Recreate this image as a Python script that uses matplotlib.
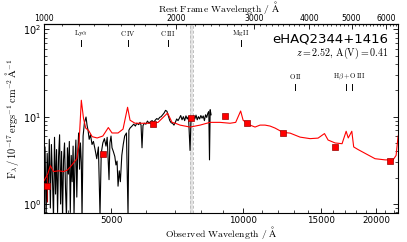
import matplotlib
matplotlib.use('Agg')
import matplotlib.pyplot as plt
import matplotlib.transforms as mtransforms
from matplotlib.ticker import (FixedLocator, MultipleLocator, NullFormatter,
                               FuncFormatter, LogLocator, LogFormatterMathtext)

plt.rcParams['mathtext.fontset'] = 'cm'
plt.rcParams['font.family'] = ['DejaVu Sans']

z = 2.52
av = 0.41
name = 'eHAQ2344+1416'

# observed spectrum (black)
spec_wave = [3520, 3540, 3560, 3580, 3600, 3620, 3640, 3660, 3680, 3700,
             3720, 3740, 3760, 3780, 3800, 3820, 3840, 3860, 3880, 3900,
             3920, 3940, 3960, 3980, 4000, 4020, 4040, 4060, 4080, 4100,
             4120, 4140, 4160, 4180, 4200, 4220, 4240, 4260, 4280, 4296,
             4320, 4350, 4387, 4410, 4433, 4460, 4490, 4527, 4560, 4600,
             4640, 4680, 4720, 4750, 4790, 4830, 4870, 4900, 4948, 4970,
             5000, 5026, 5060, 5100, 5130, 5160, 5187, 5220, 5250, 5290,
             5330, 5370, 5420, 5465, 5490, 5523, 5580, 5630, 5680, 5720,
             5780, 5819, 5850, 5880, 5910, 5950, 6000, 6050, 6100, 6150,
             6200, 6250, 6300, 6350, 6400, 6450, 6500, 6550, 6600, 6650,
             6700, 6750, 6800, 6850, 6900, 6950, 7000, 7050, 7100, 7150,
             7200, 7250, 7300, 7350, 7400, 7450, 7500, 7560, 7600, 7650,
             7700, 7750, 7800, 7850, 7900, 7950, 8000, 8050, 8100, 8150,
             8200, 8250, 8300, 8340, 8370, 8400, 8440]
spec_flux = [1.2, 4.5, 0.7, 3.8, 1.5, 5.5, 0.9, 4.8, 2.0, 0.7,
             5.8, 1.3, 4.2, 0.8, 3.5, 6.2, 1.0, 4.0, 0.7, 3.2,
             5.0, 1.5, 0.7, 4.4, 2.2, 5.2, 0.8, 3.6, 1.8, 4.6,
             0.75, 3.0, 5.4, 1.2, 3.8, 6.5, 2.5, 5.0, 3.0, 0.7,
             6.0, 8.5, 9.9, 8.0, 7.0, 5.5, 6.2, 4.8, 5.2, 4.2,
             3.3, 4.5, 0.75, 3.8, 5.0, 5.6, 4.6, 5.8, 1.9, 5.0,
             6.0, 4.4, 4.0, 3.5, 2.8, 3.1, 1.6, 2.4, 1.8, 3.6,
             4.8, 6.0, 6.5, 0.75, 7.0, 7.4, 7.8, 8.2, 7.8, 8.4,
             8.1, 8.6, 8.0, 4.4, 7.9, 8.4, 8.2, 8.9, 8.4, 8.8,
             9.0, 8.6, 9.1, 9.5, 9.3, 9.8, 10.0, 10.5, 11.0, 11.8,
             11.5, 10.2, 9.0, 8.5, 8.4, 8.0, 8.6, 9.4, 9.0, 9.6,
             10.3, 9.2, 10.0, 9.0, 10.2, 9.4, 10.0, 4.1, 9.6, 9.0,
             10.2, 9.4, 10.4, 9.2, 10.0, 9.4, 10.3, 9.6, 10.2, 9.0,
             10.5, 9.8, 11.0, 11.4, 3.2, 12.0, 10.5]

# reddened quasar model (red)
model_wave = [3521, 3590, 3640, 3700, 3800, 3900, 3980, 4050, 4120, 4180,
              4230, 4280, 4330, 4380, 4450, 4530, 4650, 4790, 4930, 5026,
              5187, 5324, 5452, 5523, 5669, 5819, 5974, 6197, 6395, 6633,
              6720, 6880, 7000, 7175, 7561, 7967, 8394, 8845, 9320, 9600,
              9852, 9980, 10188, 10349, 10623, 10904, 11194, 11491, 11794, 12298,
              12759, 13443, 14170, 14774, 15277, 15567, 16147, 16749, 17111, 17300,
              17625, 17800, 18214, 18896, 19905, 20976, 21876, 22222, 22457]
model_flux = [1.85, 2.2, 2.75, 2.35, 2.4, 2.35, 2.45, 2.7, 3.0, 3.3,
              5.0, 15.4, 9.5, 7.4, 6.9, 5.9, 5.7, 6.0, 7.5, 6.5,
              6.5, 7.2, 12.8, 9.1, 8.4, 8.4, 8.4, 8.4, 8.6, 10.3,
              11.0, 8.6, 8.4, 8.0, 7.6, 8.0, 8.6, 8.6, 8.4, 8.6,
              11.6, 9.1, 8.4, 8.0, 7.6, 8.0, 8.0, 7.8, 7.4, 6.6,
              6.48, 5.83, 5.6, 5.68, 6.4, 5.4, 5.0, 4.9, 6.8, 5.7,
              6.8, 4.5, 4.2, 3.8, 3.3, 3.2, 3.2, 3.6, 6.0]

# photometry (red squares)
phot_wave = [3575, 4790, 6230, 7600, 9080, 10190, 12300, 16150, 21500]
phot_flux = [1.61, 3.73, 8.21, 9.61, 10.13, 8.43, 6.48, 4.48, 3.10]
phot_err = [0.55, 0.0, 0.0, 0.0, 0.0, 0.0, 0.0, 0.0, 0.0]

# emission line markers
uv_labels = [r'$\mathrm{Ly\alpha}$', r'$\mathrm{C\,IV}$', r'$\mathrm{C\,III}$', r'$\mathrm{Mg\,II}$']
uv_rest = [1216, 1549, 1909, 2799]
opt_label_names = [r'$\mathrm{O\,II}$', r'$\mathrm{H\beta+O\,III}$']
opt_label_rest = [3727, 4934]
opt_tick_rest = [3727, 4861, 5007]

telluric = [7545, 7670]

fig = plt.figure(figsize=(4.07, 2.42), dpi=100)
ax = fig.add_axes([0.108, 0.12, 0.870, 0.781])
ax.set_xscale('log')
ax.set_yscale('log')
ax.set_xlim(3520, 22450)
ax.set_ylim(0.79, 115)

ax.axvspan(telluric[0], telluric[1], color='#e3e3e3', zorder=0, lw=0)
for t in telluric:
    ax.axvline(t, color='#bdbdbd', ls=(0, (3, 2)), lw=0.7, zorder=0)

ax.plot(spec_wave, spec_flux, color='black', lw=0.8, zorder=2)
ax.plot(model_wave, model_flux, color='red', lw=0.8, zorder=3)
ax.errorbar(phot_wave, phot_flux, yerr=phot_err, fmt='s', color='red',
            mec='#990000', mew=0.5, ms=5, ecolor='#aa0000', elinewidth=0.8,
            capsize=0, zorder=4)

trans = mtransforms.blended_transform_factory(ax.transData, ax.transAxes)
for lab, r in zip(uv_labels, uv_rest):
    w = r * (1 + z)
    ax.text(w, 0.952, lab, transform=trans, ha='center', va='center', fontsize=5)
    ax.plot([w, w], [0.885, 0.915], transform=trans, color='black', lw=0.7)
for lab, r in zip(opt_label_names, opt_label_rest):
    w = r * (1 + z)
    ax.text(w, 0.72, lab, transform=trans, ha='center', va='center', fontsize=5)
for r in opt_tick_rest:
    w = r * (1 + z)
    ax.plot([w, w], [0.652, 0.683], transform=trans, color='black', lw=0.7)

ax.text(0.972, 0.92, name, transform=ax.transAxes, ha='right', va='center', fontsize=9.5)
ax.text(0.972, 0.847, r'$z=2.52,\,\mathrm{A(V)}=0.41$', transform=ax.transAxes,
        ha='right', va='center', fontsize=7.2)

ax.xaxis.set_major_locator(FixedLocator([5000, 10000, 15000, 20000]))
ax.xaxis.set_major_formatter(FuncFormatter(lambda v, p: f'{v:.0f}'))
ax.xaxis.set_minor_locator(MultipleLocator(1000))
ax.xaxis.set_minor_formatter(NullFormatter())
ax.yaxis.set_major_locator(LogLocator(base=10))
ax.yaxis.set_major_formatter(LogFormatterMathtext())
ax.yaxis.set_minor_locator(LogLocator(base=10, subs=range(2, 10)))
ax.yaxis.set_minor_formatter(NullFormatter())
ax.tick_params(axis='x', which='both', direction='in', top=False, labelsize=6.3, pad=2.2)
ax.tick_params(axis='y', which='both', direction='in', right=True, labelsize=7, pad=2)
ax.tick_params(which='major', length=3.5, width=0.6)
ax.tick_params(which='minor', length=2, width=0.5)

secax = ax.secondary_xaxis('top', functions=(lambda w: w / (1 + z), lambda w: w * (1 + z)))
secax.xaxis.set_major_locator(FixedLocator([1000, 2000, 3000, 4000, 5000, 6000]))
secax.xaxis.set_major_formatter(FuncFormatter(lambda v, p: f'{v:.0f}'))
secax.xaxis.set_minor_locator(MultipleLocator(100))
secax.xaxis.set_minor_formatter(NullFormatter())
secax.tick_params(which='both', direction='in', labelsize=5.6, pad=1.0)
secax.tick_params(which='major', length=3.5, width=0.6)
secax.tick_params(which='minor', length=1.5, width=0.5)

fig.text(0.538, 0.971, r'$\mathrm{Rest\ Frame\ Wavelength\ /\ \AA}$', fontsize=7.0,
         ha='center', va='center')
fig.text(0.543, 0.041, r'$\mathrm{Observed\ Wavelength\ /\ \AA}$', fontsize=7.0,
         ha='center', va='center')
ax.set_ylabel(r'$\mathrm{F}_\lambda\,/\,10^{-17}\,\mathrm{ergs}^{-1}\,\mathrm{cm}^{-2}\,\mathrm{\AA}^{-1}$',
              fontsize=7.5, labelpad=1)

for s in ax.spines.values():
    s.set_linewidth(0.8)

fig.savefig('out.png', dpi=100)
